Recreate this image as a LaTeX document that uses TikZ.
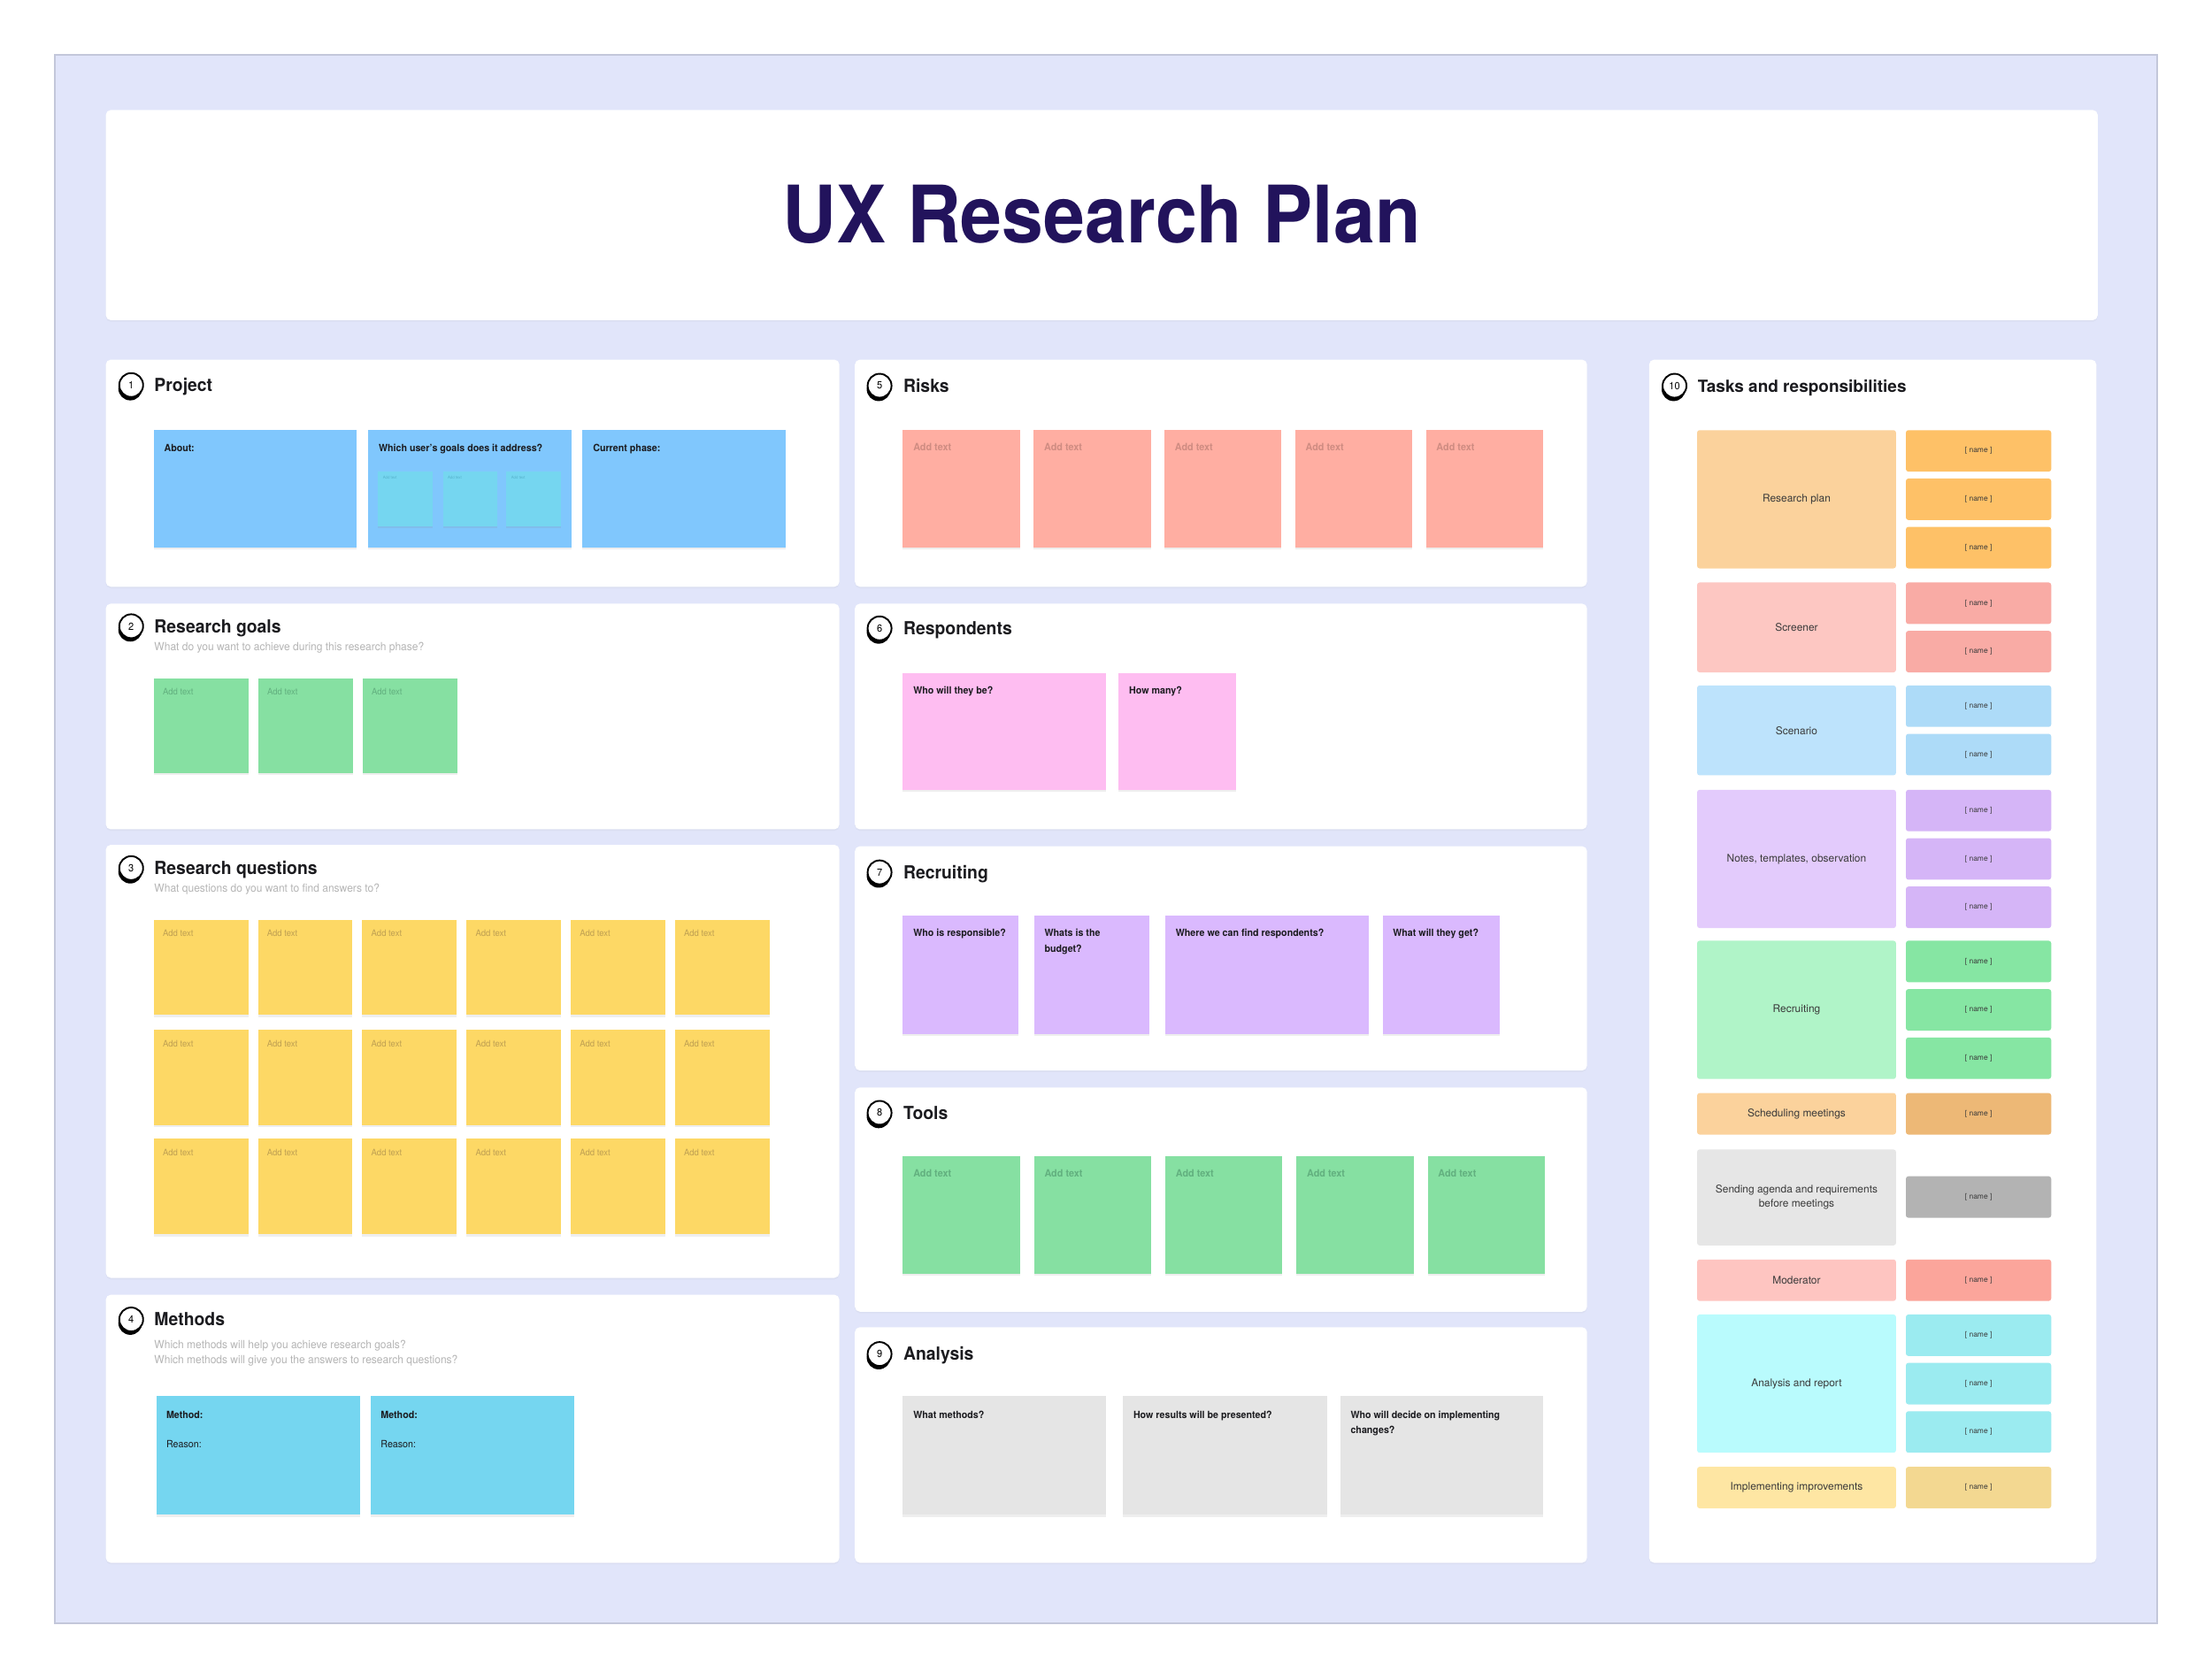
\documentclass[tikz,border=0pt]{standalone}
\usepackage{fontspec}
\setmainfont{TeX Gyre Heros}
\newfontfamily\condfont[FakeStretch=0.95]{TeX Gyre Heros}
\newfontfamily\titlefont[FakeStretch=0.94]{TeX Gyre Heros}
\usepackage{tikz}
\usetikzlibrary{positioning,fit,shadows}

% board colours
\definecolor{lavender}{HTML}{E1E5FA}
\definecolor{framegray}{HTML}{C3C7DA}
\definecolor{navy}{HTML}{22135C}
\definecolor{inkblack}{HTML}{1B1B1F}
\definecolor{hintgray}{HTML}{B5B5B5}
\definecolor{cellink}{HTML}{3A3A3A}
% sticky notes
\definecolor{bluenote}{HTML}{80C7FD}
\definecolor{cyannote}{HTML}{75D6F0}
\definecolor{greennote}{HTML}{86E0A2}
\definecolor{yellownote}{HTML}{FDD865}
\definecolor{salmonnote}{HTML}{FFAEA2}
\definecolor{pinknote}{HTML}{FEBDF1}
\definecolor{purplenote}{HTML}{DAB9FE}
\definecolor{graynote}{HTML}{E5E5E5}
\definecolor{greenink}{HTML}{62B07F}
\definecolor{yellowink}{HTML}{BFA052}
\definecolor{salmonink}{HTML}{CF8C82}
\definecolor{miniink}{HTML}{55B2CC}
% tasks
\definecolor{planL}{HTML}{FBD29C}\definecolor{planR}{HTML}{FEC167}
\definecolor{screenL}{HTML}{FDC7C2}\definecolor{screenR}{HTML}{F9ABA5}
\definecolor{scenL}{HTML}{BDE3FC}\definecolor{scenR}{HTML}{ADDBF8}
\definecolor{notesL}{HTML}{E3CBFC}\definecolor{notesR}{HTML}{D5B5F7}
\definecolor{recrL}{HTML}{B0F4C8}\definecolor{recrR}{HTML}{86E6A3}
\definecolor{schedL}{HTML}{FBD29C}\definecolor{schedR}{HTML}{EDB876}
\definecolor{sendL}{HTML}{E6E6E6}\definecolor{sendR}{HTML}{B3B3B3}
\definecolor{modL}{HTML}{FEC5C1}\definecolor{modR}{HTML}{FBA59B}
\definecolor{analL}{HTML}{B9FBFD}\definecolor{analR}{HTML}{9BEBF0}
\definecolor{implL}{HTML}{FEE6A3}\definecolor{implR}{HTML}{F3D891}

\tikzset{
  board/.style={inner sep=0pt, outer sep=0pt, fill=lavender, draw=framegray, line width=0.4pt},
  panel/.style={inner sep=0pt, outer sep=0pt, fill=white, rounded corners=1.6pt,
    drop shadow={opacity=0.06, shadow xshift=0pt, shadow yshift=-0.5pt}},
  sticky/.style={inner sep=0pt, outer sep=0pt, fill=#1,
    drop shadow={opacity=0.13, shadow xshift=0pt, shadow yshift=-0.7pt}},
  cell/.style={inner sep=0pt, outer sep=0pt, fill=#1, rounded corners=0.8pt},
  celltext/.style={inner sep=0pt, text=cellink, font=\fontsize{3.4}{4.6}\selectfont},
  nametext/.style={inner sep=0pt, text=cellink, font=\fontsize{2.4}{3}\selectfont},
  badge/.style={circle, draw=black, fill=white, line width=0.55pt, minimum size=0.27cm, inner sep=0pt,
    font=\condfont\fontsize{3.3}{4}\selectfont,
    drop shadow={fill=black, opacity=1, shadow xshift=-0.3pt, shadow yshift=-1.1pt}},
  heading/.style={anchor=base west, inner sep=0pt, text=inkblack, font=\condfont\bfseries\fontsize{5.8}{7}\selectfont},
  hint/.style={anchor=base west, inner sep=0pt, text=hintgray, font=\condfont\fontsize{3.6}{5}\selectfont},
  notelabel/.style={anchor=base west, inner sep=0pt, text=inkblack, font=\condfont\bfseries\fontsize{3.2}{5}\selectfont},
  addtext/.style={anchor=base west, inner sep=0pt, text=#1, font=\condfont\fontsize{2.85}{3.5}\selectfont},
  addbold/.style={anchor=base west, inner sep=0pt, text=#1, font=\condfont\bfseries\fontsize{3.25}{4}\selectfont},
}

\begin{document}
\begin{tikzpicture}[x=0.015944cm, y=-0.015944cm]
  \fill[white] (0,0) rectangle (1568,1190.4);
  \useasboundingbox (0,0) rectangle (1568,1190.4);

  \node[board, fit={(39,39) (1529,1151)}] (board) {};

  % title
  \node[panel, fit={(75,78) (1487,227)}] (p-title) {};
  \node[anchor=base, inner sep=0pt, text=navy, font=\titlefont\bfseries\fontsize{25.5}{28}\selectfont]
    (title) at (781,172) {UX Research Plan};

  % panels
  \node[panel, fit={(75,255) (595,416)}] (p-project) {};
  \node[panel, fit={(75,428) (595,588)}] (p-goals) {};
  \node[panel, fit={(75,599) (595,906)}] (p-questions) {};
  \node[panel, fit={(75,918) (595,1108)}] (p-methods) {};
  \node[panel, fit={(606,255) (1125,416)}] (p-risks) {};
  \node[panel, fit={(606,428) (1125,588)}] (p-respondents) {};
  \node[panel, fit={(606,600) (1125,759)}] (p-recruiting) {};
  \node[panel, fit={(606,771) (1125,930)}] (p-tools) {};
  \node[panel, fit={(606,941) (1125,1108)}] (p-analysis) {};
  \node[panel, fit={(1169,255) (1486,1108)}] (p-tasks) {};

  % numbered headings
  \foreach \num/\cx/\cy in {1/93/273, 2/93/444, 3/93/615.5, 4/93/935.5, 5/623.5/273.5, 6/623.5/445.5,
      7/623.5/618.5, 8/623.5/789, 9/623.5/960, 10/1187/273.5}
    \node[badge] (badge-\num) at (\cx,\cy) {\num};

  \node[heading] (h-project) at (109,277.5) {Project};
  \node[heading] (h-goals) at (109,448.5) {Research goals};
  \node[heading] (h-questions) at (109,620) {Research questions};
  \node[heading] (h-methods) at (109,940) {Methods};
  \node[heading] (h-risks) at (640,278) {Risks};
  \node[heading] (h-respondents) at (640,450) {Respondents};
  \node[heading] (h-recruiting) at (640,623) {Recruiting};
  \node[heading] (h-tools) at (640,793.5) {Tools};
  \node[heading] (h-analysis) at (640,964.5) {Analysis};
  \node[heading, font=\bfseries\fontsize{5.4}{7}\selectfont] (h-tasks) at (1203,278) {Tasks and responsibilities};

  \node[hint] (s-goals) at (109,461) {What do you want to achieve during this research phase?};
  \node[hint] (s-questions) at (109,632.5) {What questions do you want to find answers to?};
  \node[hint] (s-methods) at (109,956)
    {\vtop{\hbox{Which methods will help you achieve research goals?}\hbox{Which methods will give you the answers to research questions?}}};

  % 1 project
  \node[sticky=bluenote, fit={(109,305) (253,388)}] (about) {};
  \node[sticky=bluenote, fit={(261,305) (405,388)}] (address) {};
  \node[sticky=bluenote, fit={(413,305) (557,388)}] (phase) {};
  \node[notelabel] (about-t) at ([shift={(7,15)}]about.north west) {About:};
  \node[notelabel] (address-t) at ([shift={(7,15)}]address.north west) {Which user’s goals does it address?};
  \node[notelabel] (phase-t) at ([shift={(7,15)}]phase.north west) {Current phase:};
  \foreach \i/\xa in {1/268, 2/314, 3/359} {
    \node[sticky=cyannote, fit={(\xa,334) (\xa+38.5,373)}] (mini-\i) {};
    \node[addtext=miniink, font=\condfont\fontsize{1.3}{1.6}\selectfont] (mini-t\i)
      at ([shift={(3,5.5)}]mini-\i.north west) {Add text};
  }

  % 2 research goals
  \foreach \i in {0,1,2} {
    \pgfmathsetmacro\xa{109+74*\i}
    \node[sticky=greennote, fit={(\xa,481) (\xa+67,548)}] (goal-\i) {};
    \node[addtext=greenink] (goal-t\i) at ([shift={(6,11.6)}]goal-\i.north west) {Add text};
  }

  % 3 research questions
  \foreach \r/\ty in {0/652, 1/730, 2/807.5} {
    \foreach \c in {0,...,5} {
      \pgfmathsetmacro\xa{109+73.9*\c}
      \node[sticky=yellownote, fit={(\xa,\ty) (\xa+67,\ty+67.5)}] (q-\r-\c) {};
      \node[addtext=yellowink] (q-t\r-\c) at ([shift={(6,12)}]q-\r-\c.north west) {Add text};
    }
  }

  % 4 methods
  \foreach \i/\xa in {1/111, 2/263} {
    \node[sticky=cyannote, fit={(\xa,990) (\xa+144,1074)}] (method-\i) {};
    \node[notelabel] (method-m\i) at ([shift={(6.5,15.5)}]method-\i.north west) {Method:};
    \node[notelabel, font=\condfont\fontsize{3.2}{5}\selectfont] (method-r\i)
      at ([shift={(6.5,36.5)}]method-\i.north west) {Reason:};
  }

  % 5 risks
  \foreach \i in {0,...,4} {
    \pgfmathsetmacro\xa{640+92.7*\i}
    \node[sticky=salmonnote, fit={(\xa,305) (\xa+83,388)}] (risk-\i) {};
    \node[addbold=salmonink] (risk-t\i) at ([shift={(7,14.5)}]risk-\i.north west) {Add text};
  }

  % 6 respondents
  \node[sticky=pinknote, fit={(640,477) (784,560)}] (who) {};
  \node[sticky=pinknote, fit={(793,477) (876,560)}] (howmany) {};
  \node[notelabel] (who-t) at ([shift={(7,15)}]who.north west) {Who will they be?};
  \node[notelabel] (howmany-t) at ([shift={(7,15)}]howmany.north west) {How many?};

  % 7 recruiting
  \node[sticky=purplenote, fit={(640,649) (722,733)}] (rc-1) {};
  \node[sticky=purplenote, fit={(733,649) (815,733)}] (rc-2) {};
  \node[sticky=purplenote, fit={(826,649) (970,733)}] (rc-3) {};
  \node[sticky=purplenote, fit={(980,649) (1063,733)}] (rc-4) {};
  \node[notelabel] (rc-t1) at ([shift={(7,15)}]rc-1.north west) {Who is responsible?};
  \node[notelabel] (rc-t2) at ([shift={(7,15)}]rc-2.north west) {\vtop{\hbox{Whats is the}\hbox{budget?}}};
  \node[notelabel] (rc-t3) at ([shift={(7,15)}]rc-3.north west) {Where we can find respondents?};
  \node[notelabel] (rc-t4) at ([shift={(7,15)}]rc-4.north west) {What will they get?};

  % 8 tools
  \foreach \i in {0,...,4} {
    \pgfmathsetmacro\xa{640+93*\i}
    \node[sticky=greennote, fit={(\xa,820) (\xa+83,903)}] (tool-\i) {};
    \node[addbold=greenink] (tool-t\i) at ([shift={(7,14.5)}]tool-\i.north west) {Add text};
  }

  % 9 analysis
  \node[sticky=graynote, fit={(640,990) (784,1074)}] (an-1) {};
  \node[sticky=graynote, fit={(796,990) (941,1074)}] (an-2) {};
  \node[sticky=graynote, fit={(950,990) (1094,1074)}] (an-3) {};
  \node[notelabel] (an-t1) at ([shift={(7,15.5)}]an-1.north west) {What methods?};
  \node[notelabel] (an-t2) at ([shift={(7,15.5)}]an-2.north west) {How results will be presented?};
  \node[notelabel] (an-t3) at ([shift={(7,15.5)}]an-3.north west)
    {\vtop{\hbox{Who will decide on implementing}\hbox{changes?}}};

  % 10 tasks and responsibilities
  \foreach \top/\n/\lab/\cl/\cr/\id in {305/3/Research plan/planL/planR/plan,
      413/2/Screener/screenL/screenR/screen, 486/2/Scenario/scenL/scenR/scen,
      560/3/{Notes, templates, observation}/notesL/notesR/notes,
      667/3/Recruiting/recrL/recrR/recr, 775/1/Scheduling meetings/schedL/schedR/sched,
      893/1/Moderator/modL/modR/mod, 932/3/Analysis and report/analL/analR/anal,
      1040/1/Implementing improvements/implL/implR/impl} {
    \pgfmathsetmacro\bot{\top+\n*29.4+(\n-1)*4.9}
    \node[cell=\cl, fit={(1203,\top) (1344,\bot)}] (task-\id) {};
    \node[celltext] (task-t\id) at (task-\id.center) {\lab};
    \foreach \k in {1,...,\n} {
      \pgfmathsetmacro\ct{\top+(\k-1)*34.3}
      \node[cell=\cr, fit={(1351,\ct) (1454,\ct+29.4)}] (who-\id-\k) {};
      \node[nametext] (who-t\id-\k) at (who-\id-\k.center) {[ name ]};
    }
  }
  \node[cell=sendL, fit={(1203,815) (1344,883)}] (task-send) {};
  \node[celltext, align=center] (task-tsend) at (task-send.center) {Sending agenda and requirements\\before meetings};
  \node[cell=sendR, fit={(1351,834) (1454,863.4)}] (who-send-1) {};
  \node[nametext] (who-tsend-1) at (who-send-1.center) {[ name ]};
\end{tikzpicture}
\end{document}
